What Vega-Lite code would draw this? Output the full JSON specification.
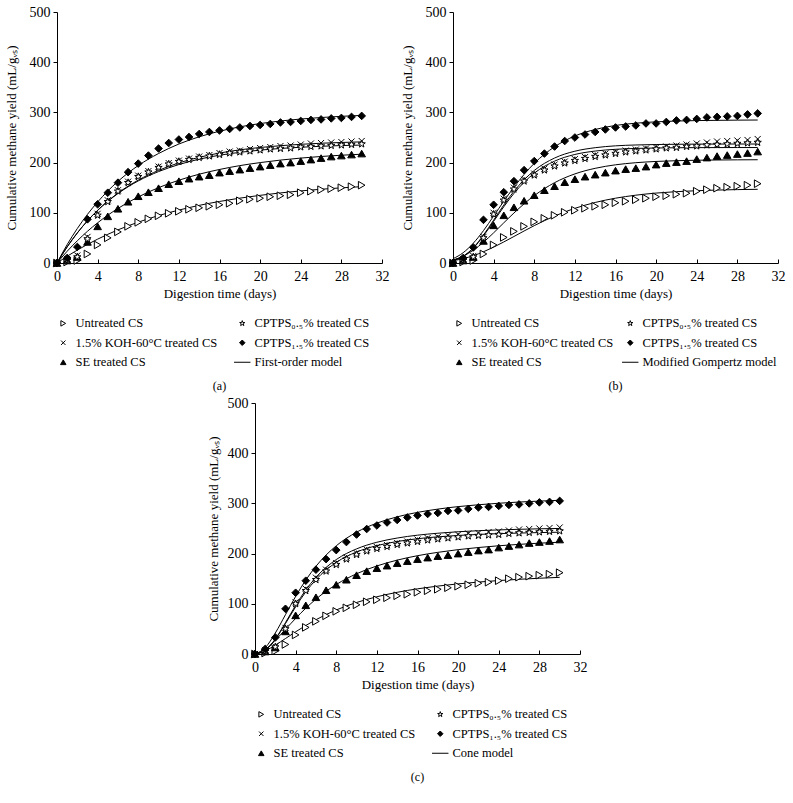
{
"$schema": "https://vega.github.io/schema/vega-lite/v6.json",
"padding": 5,
"config": {
  "font": "Liberation Serif",
  "view": {"stroke": null},
  "axis": {"grid": false, "domainColor": "black", "tickColor": "black", "labelColor": "black", "titleColor": "black", "labelFontSize": 14, "titleFontSize": 13, "titleFontWeight": "normal", "labelFont": "Liberation Serif", "titleFont": "Liberation Serif", "domainWidth": 1, "tickWidth": 1},
  "axisY": {"tickSize": 4, "labelPadding": 3, "titlePadding": 11},
  "axisX": {"tickSize": -4, "labelPadding": 10, "titlePadding": 4, "labelFlush": false},
  "legend": {"orient": "bottom", "columns": 2, "title": null, "labelFontSize": 12.5, "labelFont": "Liberation Serif", "labelColor": "black", "symbolStrokeColor": "black", "symbolStrokeWidth": 1, "symbolSize": 30, "rowPadding": 6.5, "columnPadding": 14, "labelOffset": 6, "offset": 17, "labelLimit": 300},
  "title": {"font": "Liberation Serif", "fontSize": 12, "fontWeight": "normal", "color": "black"}
},
"datasets": {
"points": [
{"p":"a","s":"U","d":0,"y":0},{"p":"a","s":"U","d":1,"y":2},{"p":"a","s":"U","d":2,"y":5},{"p":"a","s":"U","d":3,"y":18},{"p":"a","s":"U","d":4,"y":36},{"p":"a","s":"U","d":5,"y":50},{"p":"a","s":"U","d":6,"y":62},{"p":"a","s":"U","d":7,"y":73},{"p":"a","s":"U","d":8,"y":81},{"p":"a","s":"U","d":9,"y":88},{"p":"a","s":"U","d":10,"y":94},{"p":"a","s":"U","d":11,"y":99},{"p":"a","s":"U","d":12,"y":103},{"p":"a","s":"U","d":13,"y":107},{"p":"a","s":"U","d":14,"y":110},{"p":"a","s":"U","d":15,"y":113},{"p":"a","s":"U","d":16,"y":116},{"p":"a","s":"U","d":17,"y":119},{"p":"a","s":"U","d":18,"y":124},{"p":"a","s":"U","d":19,"y":127},{"p":"a","s":"U","d":20,"y":129},{"p":"a","s":"U","d":21,"y":132},{"p":"a","s":"U","d":22,"y":134},{"p":"a","s":"U","d":23,"y":136},{"p":"a","s":"U","d":24,"y":140},{"p":"a","s":"U","d":25,"y":143},{"p":"a","s":"U","d":26,"y":146},{"p":"a","s":"U","d":27,"y":148},{"p":"a","s":"U","d":28,"y":150},{"p":"a","s":"U","d":29,"y":152},{"p":"a","s":"U","d":30,"y":155},
{"p":"a","s":"K","d":0,"y":0},{"p":"a","s":"K","d":1,"y":8},{"p":"a","s":"K","d":2,"y":15},{"p":"a","s":"K","d":3,"y":52},{"p":"a","s":"K","d":4,"y":98},{"p":"a","s":"K","d":5,"y":125},{"p":"a","s":"K","d":6,"y":145},{"p":"a","s":"K","d":7,"y":162},{"p":"a","s":"K","d":8,"y":174},{"p":"a","s":"K","d":9,"y":183},{"p":"a","s":"K","d":10,"y":192},{"p":"a","s":"K","d":11,"y":199},{"p":"a","s":"K","d":12,"y":204},{"p":"a","s":"K","d":13,"y":208},{"p":"a","s":"K","d":14,"y":212},{"p":"a","s":"K","d":15,"y":215},{"p":"a","s":"K","d":16,"y":219},{"p":"a","s":"K","d":17,"y":222},{"p":"a","s":"K","d":18,"y":224},{"p":"a","s":"K","d":19,"y":227},{"p":"a","s":"K","d":20,"y":229},{"p":"a","s":"K","d":21,"y":231},{"p":"a","s":"K","d":22,"y":233},{"p":"a","s":"K","d":23,"y":234},{"p":"a","s":"K","d":24,"y":236},{"p":"a","s":"K","d":25,"y":238},{"p":"a","s":"K","d":26,"y":239},{"p":"a","s":"K","d":27,"y":240},{"p":"a","s":"K","d":28,"y":241},{"p":"a","s":"K","d":29,"y":242},{"p":"a","s":"K","d":30,"y":243},
{"p":"a","s":"S","d":0,"y":0},{"p":"a","s":"S","d":1,"y":5},{"p":"a","s":"S","d":2,"y":12},{"p":"a","s":"S","d":3,"y":42},{"p":"a","s":"S","d":4,"y":73},{"p":"a","s":"S","d":5,"y":93},{"p":"a","s":"S","d":6,"y":108},{"p":"a","s":"S","d":7,"y":122},{"p":"a","s":"S","d":8,"y":133},{"p":"a","s":"S","d":9,"y":141},{"p":"a","s":"S","d":10,"y":149},{"p":"a","s":"S","d":11,"y":157},{"p":"a","s":"S","d":12,"y":163},{"p":"a","s":"S","d":13,"y":168},{"p":"a","s":"S","d":14,"y":172},{"p":"a","s":"S","d":15,"y":175},{"p":"a","s":"S","d":16,"y":180},{"p":"a","s":"S","d":17,"y":183},{"p":"a","s":"S","d":18,"y":186},{"p":"a","s":"S","d":19,"y":189},{"p":"a","s":"S","d":20,"y":192},{"p":"a","s":"S","d":21,"y":195},{"p":"a","s":"S","d":22,"y":198},{"p":"a","s":"S","d":23,"y":200},{"p":"a","s":"S","d":24,"y":203},{"p":"a","s":"S","d":25,"y":206},{"p":"a","s":"S","d":26,"y":209},{"p":"a","s":"S","d":27,"y":212},{"p":"a","s":"S","d":28,"y":214},{"p":"a","s":"S","d":29,"y":216},{"p":"a","s":"S","d":30,"y":218},
{"p":"a","s":"C05","d":0,"y":0},{"p":"a","s":"C05","d":1,"y":5},{"p":"a","s":"C05","d":2,"y":12},{"p":"a","s":"C05","d":3,"y":48},{"p":"a","s":"C05","d":4,"y":95},{"p":"a","s":"C05","d":5,"y":122},{"p":"a","s":"C05","d":6,"y":143},{"p":"a","s":"C05","d":7,"y":160},{"p":"a","s":"C05","d":8,"y":172},{"p":"a","s":"C05","d":9,"y":181},{"p":"a","s":"C05","d":10,"y":190},{"p":"a","s":"C05","d":11,"y":197},{"p":"a","s":"C05","d":12,"y":202},{"p":"a","s":"C05","d":13,"y":206},{"p":"a","s":"C05","d":14,"y":210},{"p":"a","s":"C05","d":15,"y":213},{"p":"a","s":"C05","d":16,"y":216},{"p":"a","s":"C05","d":17,"y":219},{"p":"a","s":"C05","d":18,"y":221},{"p":"a","s":"C05","d":19,"y":223},{"p":"a","s":"C05","d":20,"y":225},{"p":"a","s":"C05","d":21,"y":227},{"p":"a","s":"C05","d":22,"y":228},{"p":"a","s":"C05","d":23,"y":229},{"p":"a","s":"C05","d":24,"y":231},{"p":"a","s":"C05","d":25,"y":232},{"p":"a","s":"C05","d":26,"y":233},{"p":"a","s":"C05","d":27,"y":234},{"p":"a","s":"C05","d":28,"y":235},{"p":"a","s":"C05","d":29,"y":236},{"p":"a","s":"C05","d":30,"y":237},
{"p":"a","s":"C15","d":0,"y":0},{"p":"a","s":"C15","d":1,"y":10},{"p":"a","s":"C15","d":2,"y":32},{"p":"a","s":"C15","d":3,"y":87},{"p":"a","s":"C15","d":4,"y":117},{"p":"a","s":"C15","d":5,"y":140},{"p":"a","s":"C15","d":6,"y":160},{"p":"a","s":"C15","d":7,"y":181},{"p":"a","s":"C15","d":8,"y":198},{"p":"a","s":"C15","d":9,"y":214},{"p":"a","s":"C15","d":10,"y":228},{"p":"a","s":"C15","d":11,"y":239},{"p":"a","s":"C15","d":12,"y":246},{"p":"a","s":"C15","d":13,"y":251},{"p":"a","s":"C15","d":14,"y":257},{"p":"a","s":"C15","d":15,"y":261},{"p":"a","s":"C15","d":16,"y":264},{"p":"a","s":"C15","d":17,"y":267},{"p":"a","s":"C15","d":18,"y":270},{"p":"a","s":"C15","d":19,"y":273},{"p":"a","s":"C15","d":20,"y":275},{"p":"a","s":"C15","d":21,"y":277},{"p":"a","s":"C15","d":22,"y":280},{"p":"a","s":"C15","d":23,"y":281},{"p":"a","s":"C15","d":24,"y":283},{"p":"a","s":"C15","d":25,"y":285},{"p":"a","s":"C15","d":26,"y":286},{"p":"a","s":"C15","d":27,"y":288},{"p":"a","s":"C15","d":28,"y":289},{"p":"a","s":"C15","d":29,"y":291},{"p":"a","s":"C15","d":30,"y":293},
{"p":"b","s":"U","d":0,"y":0},{"p":"b","s":"U","d":1,"y":2},{"p":"b","s":"U","d":2,"y":5},{"p":"b","s":"U","d":3,"y":18},{"p":"b","s":"U","d":4,"y":36},{"p":"b","s":"U","d":5,"y":51},{"p":"b","s":"U","d":6,"y":63},{"p":"b","s":"U","d":7,"y":73},{"p":"b","s":"U","d":8,"y":82},{"p":"b","s":"U","d":9,"y":89},{"p":"b","s":"U","d":10,"y":95},{"p":"b","s":"U","d":11,"y":101},{"p":"b","s":"U","d":12,"y":105},{"p":"b","s":"U","d":13,"y":109},{"p":"b","s":"U","d":14,"y":113},{"p":"b","s":"U","d":15,"y":116},{"p":"b","s":"U","d":16,"y":120},{"p":"b","s":"U","d":17,"y":123},{"p":"b","s":"U","d":18,"y":126},{"p":"b","s":"U","d":19,"y":129},{"p":"b","s":"U","d":20,"y":132},{"p":"b","s":"U","d":21,"y":134},{"p":"b","s":"U","d":22,"y":137},{"p":"b","s":"U","d":23,"y":139},{"p":"b","s":"U","d":24,"y":143},{"p":"b","s":"U","d":25,"y":146},{"p":"b","s":"U","d":26,"y":149},{"p":"b","s":"U","d":27,"y":151},{"p":"b","s":"U","d":28,"y":153},{"p":"b","s":"U","d":29,"y":155},{"p":"b","s":"U","d":30,"y":158},
{"p":"b","s":"K","d":0,"y":0},{"p":"b","s":"K","d":1,"y":8},{"p":"b","s":"K","d":2,"y":14},{"p":"b","s":"K","d":3,"y":52},{"p":"b","s":"K","d":4,"y":100},{"p":"b","s":"K","d":5,"y":128},{"p":"b","s":"K","d":6,"y":150},{"p":"b","s":"K","d":7,"y":166},{"p":"b","s":"K","d":8,"y":178},{"p":"b","s":"K","d":9,"y":188},{"p":"b","s":"K","d":10,"y":196},{"p":"b","s":"K","d":11,"y":202},{"p":"b","s":"K","d":12,"y":207},{"p":"b","s":"K","d":13,"y":211},{"p":"b","s":"K","d":14,"y":215},{"p":"b","s":"K","d":15,"y":218},{"p":"b","s":"K","d":16,"y":221},{"p":"b","s":"K","d":17,"y":224},{"p":"b","s":"K","d":18,"y":226},{"p":"b","s":"K","d":19,"y":228},{"p":"b","s":"K","d":20,"y":230},{"p":"b","s":"K","d":21,"y":232},{"p":"b","s":"K","d":22,"y":234},{"p":"b","s":"K","d":23,"y":236},{"p":"b","s":"K","d":24,"y":238},{"p":"b","s":"K","d":25,"y":240},{"p":"b","s":"K","d":26,"y":242},{"p":"b","s":"K","d":27,"y":243},{"p":"b","s":"K","d":28,"y":244},{"p":"b","s":"K","d":29,"y":245},{"p":"b","s":"K","d":30,"y":247},
{"p":"b","s":"S","d":0,"y":0},{"p":"b","s":"S","d":1,"y":5},{"p":"b","s":"S","d":2,"y":12},{"p":"b","s":"S","d":3,"y":44},{"p":"b","s":"S","d":4,"y":75},{"p":"b","s":"S","d":5,"y":95},{"p":"b","s":"S","d":6,"y":111},{"p":"b","s":"S","d":7,"y":124},{"p":"b","s":"S","d":8,"y":135},{"p":"b","s":"S","d":9,"y":145},{"p":"b","s":"S","d":10,"y":153},{"p":"b","s":"S","d":11,"y":161},{"p":"b","s":"S","d":12,"y":167},{"p":"b","s":"S","d":13,"y":172},{"p":"b","s":"S","d":14,"y":176},{"p":"b","s":"S","d":15,"y":180},{"p":"b","s":"S","d":16,"y":184},{"p":"b","s":"S","d":17,"y":187},{"p":"b","s":"S","d":18,"y":189},{"p":"b","s":"S","d":19,"y":192},{"p":"b","s":"S","d":20,"y":196},{"p":"b","s":"S","d":21,"y":199},{"p":"b","s":"S","d":22,"y":201},{"p":"b","s":"S","d":23,"y":203},{"p":"b","s":"S","d":24,"y":207},{"p":"b","s":"S","d":25,"y":210},{"p":"b","s":"S","d":26,"y":213},{"p":"b","s":"S","d":27,"y":215},{"p":"b","s":"S","d":28,"y":217},{"p":"b","s":"S","d":29,"y":219},{"p":"b","s":"S","d":30,"y":222},
{"p":"b","s":"C05","d":0,"y":0},{"p":"b","s":"C05","d":1,"y":5},{"p":"b","s":"C05","d":2,"y":12},{"p":"b","s":"C05","d":3,"y":50},{"p":"b","s":"C05","d":4,"y":97},{"p":"b","s":"C05","d":5,"y":125},{"p":"b","s":"C05","d":6,"y":147},{"p":"b","s":"C05","d":7,"y":163},{"p":"b","s":"C05","d":8,"y":175},{"p":"b","s":"C05","d":9,"y":185},{"p":"b","s":"C05","d":10,"y":193},{"p":"b","s":"C05","d":11,"y":199},{"p":"b","s":"C05","d":12,"y":204},{"p":"b","s":"C05","d":13,"y":208},{"p":"b","s":"C05","d":14,"y":212},{"p":"b","s":"C05","d":15,"y":215},{"p":"b","s":"C05","d":16,"y":218},{"p":"b","s":"C05","d":17,"y":221},{"p":"b","s":"C05","d":18,"y":223},{"p":"b","s":"C05","d":19,"y":225},{"p":"b","s":"C05","d":20,"y":227},{"p":"b","s":"C05","d":21,"y":229},{"p":"b","s":"C05","d":22,"y":230},{"p":"b","s":"C05","d":23,"y":232},{"p":"b","s":"C05","d":24,"y":233},{"p":"b","s":"C05","d":25,"y":235},{"p":"b","s":"C05","d":26,"y":236},{"p":"b","s":"C05","d":27,"y":237},{"p":"b","s":"C05","d":28,"y":238},{"p":"b","s":"C05","d":29,"y":239},{"p":"b","s":"C05","d":30,"y":240},
{"p":"b","s":"C15","d":0,"y":0},{"p":"b","s":"C15","d":1,"y":10},{"p":"b","s":"C15","d":2,"y":31},{"p":"b","s":"C15","d":3,"y":86},{"p":"b","s":"C15","d":4,"y":116},{"p":"b","s":"C15","d":5,"y":141},{"p":"b","s":"C15","d":6,"y":163},{"p":"b","s":"C15","d":7,"y":185},{"p":"b","s":"C15","d":8,"y":203},{"p":"b","s":"C15","d":9,"y":218},{"p":"b","s":"C15","d":10,"y":232},{"p":"b","s":"C15","d":11,"y":243},{"p":"b","s":"C15","d":12,"y":250},{"p":"b","s":"C15","d":13,"y":256},{"p":"b","s":"C15","d":14,"y":261},{"p":"b","s":"C15","d":15,"y":266},{"p":"b","s":"C15","d":16,"y":270},{"p":"b","s":"C15","d":17,"y":272},{"p":"b","s":"C15","d":18,"y":274},{"p":"b","s":"C15","d":19,"y":278},{"p":"b","s":"C15","d":20,"y":278},{"p":"b","s":"C15","d":21,"y":281},{"p":"b","s":"C15","d":22,"y":284},{"p":"b","s":"C15","d":23,"y":285},{"p":"b","s":"C15","d":24,"y":287},{"p":"b","s":"C15","d":25,"y":290},{"p":"b","s":"C15","d":26,"y":291},{"p":"b","s":"C15","d":27,"y":292},{"p":"b","s":"C15","d":28,"y":293},{"p":"b","s":"C15","d":29,"y":296},{"p":"b","s":"C15","d":30,"y":298},
{"p":"c","s":"U","d":0,"y":0},{"p":"c","s":"U","d":1,"y":2},{"p":"c","s":"U","d":2,"y":6},{"p":"c","s":"U","d":3,"y":19},{"p":"c","s":"U","d":4,"y":38},{"p":"c","s":"U","d":5,"y":53},{"p":"c","s":"U","d":6,"y":65},{"p":"c","s":"U","d":7,"y":76},{"p":"c","s":"U","d":8,"y":85},{"p":"c","s":"U","d":9,"y":92},{"p":"c","s":"U","d":10,"y":98},{"p":"c","s":"U","d":11,"y":104},{"p":"c","s":"U","d":12,"y":108},{"p":"c","s":"U","d":13,"y":112},{"p":"c","s":"U","d":14,"y":116},{"p":"c","s":"U","d":15,"y":119},{"p":"c","s":"U","d":16,"y":123},{"p":"c","s":"U","d":17,"y":126},{"p":"c","s":"U","d":18,"y":129},{"p":"c","s":"U","d":19,"y":132},{"p":"c","s":"U","d":20,"y":135},{"p":"c","s":"U","d":21,"y":138},{"p":"c","s":"U","d":22,"y":141},{"p":"c","s":"U","d":23,"y":143},{"p":"c","s":"U","d":24,"y":146},{"p":"c","s":"U","d":25,"y":150},{"p":"c","s":"U","d":26,"y":153},{"p":"c","s":"U","d":27,"y":155},{"p":"c","s":"U","d":28,"y":157},{"p":"c","s":"U","d":29,"y":159},{"p":"c","s":"U","d":30,"y":162},
{"p":"c","s":"K","d":0,"y":0},{"p":"c","s":"K","d":1,"y":8},{"p":"c","s":"K","d":2,"y":15},{"p":"c","s":"K","d":3,"y":52},{"p":"c","s":"K","d":4,"y":103},{"p":"c","s":"K","d":5,"y":130},{"p":"c","s":"K","d":6,"y":152},{"p":"c","s":"K","d":7,"y":168},{"p":"c","s":"K","d":8,"y":181},{"p":"c","s":"K","d":9,"y":192},{"p":"c","s":"K","d":10,"y":201},{"p":"c","s":"K","d":11,"y":208},{"p":"c","s":"K","d":12,"y":213},{"p":"c","s":"K","d":13,"y":217},{"p":"c","s":"K","d":14,"y":221},{"p":"c","s":"K","d":15,"y":224},{"p":"c","s":"K","d":16,"y":228},{"p":"c","s":"K","d":17,"y":231},{"p":"c","s":"K","d":18,"y":233},{"p":"c","s":"K","d":19,"y":236},{"p":"c","s":"K","d":20,"y":238},{"p":"c","s":"K","d":21,"y":240},{"p":"c","s":"K","d":22,"y":241},{"p":"c","s":"K","d":23,"y":243},{"p":"c","s":"K","d":24,"y":244},{"p":"c","s":"K","d":25,"y":246},{"p":"c","s":"K","d":26,"y":248},{"p":"c","s":"K","d":27,"y":249},{"p":"c","s":"K","d":28,"y":250},{"p":"c","s":"K","d":29,"y":251},{"p":"c","s":"K","d":30,"y":252},
{"p":"c","s":"S","d":0,"y":0},{"p":"c","s":"S","d":1,"y":5},{"p":"c","s":"S","d":2,"y":13},{"p":"c","s":"S","d":3,"y":45},{"p":"c","s":"S","d":4,"y":77},{"p":"c","s":"S","d":5,"y":97},{"p":"c","s":"S","d":6,"y":113},{"p":"c","s":"S","d":7,"y":127},{"p":"c","s":"S","d":8,"y":138},{"p":"c","s":"S","d":9,"y":148},{"p":"c","s":"S","d":10,"y":157},{"p":"c","s":"S","d":11,"y":165},{"p":"c","s":"S","d":12,"y":171},{"p":"c","s":"S","d":13,"y":176},{"p":"c","s":"S","d":14,"y":181},{"p":"c","s":"S","d":15,"y":185},{"p":"c","s":"S","d":16,"y":189},{"p":"c","s":"S","d":17,"y":192},{"p":"c","s":"S","d":18,"y":195},{"p":"c","s":"S","d":19,"y":197},{"p":"c","s":"S","d":20,"y":200},{"p":"c","s":"S","d":21,"y":203},{"p":"c","s":"S","d":22,"y":206},{"p":"c","s":"S","d":23,"y":208},{"p":"c","s":"S","d":24,"y":212},{"p":"c","s":"S","d":25,"y":215},{"p":"c","s":"S","d":26,"y":218},{"p":"c","s":"S","d":27,"y":221},{"p":"c","s":"S","d":28,"y":223},{"p":"c","s":"S","d":29,"y":225},{"p":"c","s":"S","d":30,"y":228},
{"p":"c","s":"C05","d":0,"y":0},{"p":"c","s":"C05","d":1,"y":5},{"p":"c","s":"C05","d":2,"y":14},{"p":"c","s":"C05","d":3,"y":50},{"p":"c","s":"C05","d":4,"y":100},{"p":"c","s":"C05","d":5,"y":126},{"p":"c","s":"C05","d":6,"y":148},{"p":"c","s":"C05","d":7,"y":165},{"p":"c","s":"C05","d":8,"y":178},{"p":"c","s":"C05","d":9,"y":189},{"p":"c","s":"C05","d":10,"y":198},{"p":"c","s":"C05","d":11,"y":205},{"p":"c","s":"C05","d":12,"y":210},{"p":"c","s":"C05","d":13,"y":214},{"p":"c","s":"C05","d":14,"y":218},{"p":"c","s":"C05","d":15,"y":221},{"p":"c","s":"C05","d":16,"y":224},{"p":"c","s":"C05","d":17,"y":227},{"p":"c","s":"C05","d":18,"y":229},{"p":"c","s":"C05","d":19,"y":231},{"p":"c","s":"C05","d":20,"y":233},{"p":"c","s":"C05","d":21,"y":235},{"p":"c","s":"C05","d":22,"y":236},{"p":"c","s":"C05","d":23,"y":237},{"p":"c","s":"C05","d":24,"y":238},{"p":"c","s":"C05","d":25,"y":240},{"p":"c","s":"C05","d":26,"y":241},{"p":"c","s":"C05","d":27,"y":242},{"p":"c","s":"C05","d":28,"y":243},{"p":"c","s":"C05","d":29,"y":244},{"p":"c","s":"C05","d":30,"y":245},
{"p":"c","s":"C15","d":0,"y":0},{"p":"c","s":"C15","d":1,"y":10},{"p":"c","s":"C15","d":2,"y":33},{"p":"c","s":"C15","d":3,"y":90},{"p":"c","s":"C15","d":4,"y":122},{"p":"c","s":"C15","d":5,"y":146},{"p":"c","s":"C15","d":6,"y":168},{"p":"c","s":"C15","d":7,"y":189},{"p":"c","s":"C15","d":8,"y":207},{"p":"c","s":"C15","d":9,"y":223},{"p":"c","s":"C15","d":10,"y":238},{"p":"c","s":"C15","d":11,"y":249},{"p":"c","s":"C15","d":12,"y":256},{"p":"c","s":"C15","d":13,"y":262},{"p":"c","s":"C15","d":14,"y":267},{"p":"c","s":"C15","d":15,"y":272},{"p":"c","s":"C15","d":16,"y":276},{"p":"c","s":"C15","d":17,"y":279},{"p":"c","s":"C15","d":18,"y":281},{"p":"c","s":"C15","d":19,"y":285},{"p":"c","s":"C15","d":20,"y":286},{"p":"c","s":"C15","d":21,"y":289},{"p":"c","s":"C15","d":22,"y":292},{"p":"c","s":"C15","d":23,"y":293},{"p":"c","s":"C15","d":24,"y":295},{"p":"c","s":"C15","d":25,"y":297},{"p":"c","s":"C15","d":26,"y":298},{"p":"c","s":"C15","d":27,"y":300},{"p":"c","s":"C15","d":28,"y":302},{"p":"c","s":"C15","d":29,"y":303},{"p":"c","s":"C15","d":30,"y":305}
],
"models": [
{"p":"a","s":"C15","d":0,"y":0},{"p":"a","s":"C15","d":1,"y":36.6},{"p":"a","s":"C15","d":2,"y":68.7},{"p":"a","s":"C15","d":3,"y":96.9},{"p":"a","s":"C15","d":4,"y":121.5},{"p":"a","s":"C15","d":5,"y":143.4},{"p":"a","s":"C15","d":6,"y":162.6},{"p":"a","s":"C15","d":8,"y":194.1},{"p":"a","s":"C15","d":10,"y":218.1},{"p":"a","s":"C15","d":12,"y":237},{"p":"a","s":"C15","d":14,"y":251.4},{"p":"a","s":"C15","d":16,"y":262.5},{"p":"a","s":"C15","d":18,"y":271.2},{"p":"a","s":"C15","d":20,"y":277.8},{"p":"a","s":"C15","d":22,"y":282.9},{"p":"a","s":"C15","d":24,"y":286.8},{"p":"a","s":"C15","d":26,"y":289.8},{"p":"a","s":"C15","d":28,"y":292.2},{"p":"a","s":"C15","d":30,"y":294},
{"p":"a","s":"K","d":0,"y":0},{"p":"a","s":"K","d":1,"y":32.1},{"p":"a","s":"K","d":2,"y":59.8},{"p":"a","s":"K","d":3,"y":84},{"p":"a","s":"K","d":4,"y":105.1},{"p":"a","s":"K","d":5,"y":123.2},{"p":"a","s":"K","d":6,"y":139.2},{"p":"a","s":"K","d":8,"y":165.1},{"p":"a","s":"K","d":10,"y":184.5},{"p":"a","s":"K","d":12,"y":199.4},{"p":"a","s":"K","d":14,"y":210.5},{"p":"a","s":"K","d":16,"y":219},{"p":"a","s":"K","d":18,"y":225.4},{"p":"a","s":"K","d":20,"y":230.1},{"p":"a","s":"K","d":22,"y":233.7},{"p":"a","s":"K","d":24,"y":236.4},{"p":"a","s":"K","d":26,"y":238.6},{"p":"a","s":"K","d":28,"y":240.1},{"p":"a","s":"K","d":30,"y":241.3},
{"p":"a","s":"C05","d":0,"y":0},{"p":"a","s":"C05","d":1,"y":32.1},{"p":"a","s":"C05","d":2,"y":60},{"p":"a","s":"C05","d":3,"y":84},{"p":"a","s":"C05","d":4,"y":104.7},{"p":"a","s":"C05","d":5,"y":122.8},{"p":"a","s":"C05","d":6,"y":138.3},{"p":"a","s":"C05","d":8,"y":163.5},{"p":"a","s":"C05","d":10,"y":182.1},{"p":"a","s":"C05","d":12,"y":196.1},{"p":"a","s":"C05","d":14,"y":206.8},{"p":"a","s":"C05","d":16,"y":214.7},{"p":"a","s":"C05","d":18,"y":220.4},{"p":"a","s":"C05","d":20,"y":224.9},{"p":"a","s":"C05","d":22,"y":228.2},{"p":"a","s":"C05","d":24,"y":230.6},{"p":"a","s":"C05","d":26,"y":232.5},{"p":"a","s":"C05","d":28,"y":234},{"p":"a","s":"C05","d":30,"y":234.9},
{"p":"a","s":"S","d":0,"y":0},{"p":"a","s":"S","d":1,"y":23.4},{"p":"a","s":"S","d":2,"y":44.3},{"p":"a","s":"S","d":3,"y":63.2},{"p":"a","s":"S","d":4,"y":80.1},{"p":"a","s":"S","d":5,"y":95.2},{"p":"a","s":"S","d":6,"y":108.7},{"p":"a","s":"S","d":8,"y":131.6},{"p":"a","s":"S","d":10,"y":150.1},{"p":"a","s":"S","d":12,"y":164.9},{"p":"a","s":"S","d":14,"y":176.9},{"p":"a","s":"S","d":16,"y":186.3},{"p":"a","s":"S","d":18,"y":194},{"p":"a","s":"S","d":20,"y":200},{"p":"a","s":"S","d":22,"y":205},{"p":"a","s":"S","d":24,"y":209},{"p":"a","s":"S","d":26,"y":212.2},{"p":"a","s":"S","d":28,"y":214.7},{"p":"a","s":"S","d":30,"y":216.7},
{"p":"a","s":"U","d":0,"y":0},{"p":"a","s":"U","d":1,"y":13.5},{"p":"a","s":"U","d":2,"y":25.7},{"p":"a","s":"U","d":3,"y":37.1},{"p":"a","s":"U","d":4,"y":47.5},{"p":"a","s":"U","d":5,"y":57.1},{"p":"a","s":"U","d":6,"y":66},{"p":"a","s":"U","d":8,"y":81.3},{"p":"a","s":"U","d":10,"y":94.5},{"p":"a","s":"U","d":12,"y":105.4},{"p":"a","s":"U","d":14,"y":114.8},{"p":"a","s":"U","d":16,"y":122.6},{"p":"a","s":"U","d":18,"y":129.2},{"p":"a","s":"U","d":20,"y":134.8},{"p":"a","s":"U","d":22,"y":139.6},{"p":"a","s":"U","d":24,"y":143.6},{"p":"a","s":"U","d":26,"y":146.9},{"p":"a","s":"U","d":28,"y":149.7},{"p":"a","s":"U","d":30,"y":152.1},
{"p":"b","s":"C15","d":0,"y":8.5},{"p":"b","s":"C15","d":1,"y":20.5},{"p":"b","s":"C15","d":2,"y":39.5},{"p":"b","s":"C15","d":3,"y":64.5},{"p":"b","s":"C15","d":4,"y":93.5},{"p":"b","s":"C15","d":5,"y":123},{"p":"b","s":"C15","d":6,"y":151},{"p":"b","s":"C15","d":8,"y":198.5},{"p":"b","s":"C15","d":10,"y":231.5},{"p":"b","s":"C15","d":12,"y":253},{"p":"b","s":"C15","d":14,"y":266},{"p":"b","s":"C15","d":16,"y":274},{"p":"b","s":"C15","d":18,"y":278.5},{"p":"b","s":"C15","d":20,"y":281.2},{"p":"b","s":"C15","d":22,"y":282.8},{"p":"b","s":"C15","d":24,"y":283.7},{"p":"b","s":"C15","d":26,"y":284.2},{"p":"b","s":"C15","d":28,"y":284.6},{"p":"b","s":"C15","d":30,"y":284.8},
{"p":"b","s":"K","d":0,"y":5.5},{"p":"b","s":"K","d":1,"y":13.5},{"p":"b","s":"K","d":2,"y":30.4},{"p":"b","s":"K","d":3,"y":55.7},{"p":"b","s":"K","d":4,"y":85.4},{"p":"b","s":"K","d":5,"y":115.4},{"p":"b","s":"K","d":6,"y":142.8},{"p":"b","s":"K","d":8,"y":184.3},{"p":"b","s":"K","d":10,"y":209.1},{"p":"b","s":"K","d":12,"y":222.7},{"p":"b","s":"K","d":14,"y":229.7},{"p":"b","s":"K","d":16,"y":233.4},{"p":"b","s":"K","d":18,"y":235.1},{"p":"b","s":"K","d":20,"y":236},{"p":"b","s":"K","d":22,"y":236.5},{"p":"b","s":"K","d":24,"y":236.8},{"p":"b","s":"K","d":26,"y":236.9},{"p":"b","s":"K","d":28,"y":237},{"p":"b","s":"K","d":30,"y":237},
{"p":"b","s":"C05","d":0,"y":5.5},{"p":"b","s":"C05","d":1,"y":13},{"p":"b","s":"C05","d":2,"y":29.5},{"p":"b","s":"C05","d":3,"y":54.1},{"p":"b","s":"C05","d":4,"y":82.9},{"p":"b","s":"C05","d":5,"y":112},{"p":"b","s":"C05","d":6,"y":138.6},{"p":"b","s":"C05","d":8,"y":178.8},{"p":"b","s":"C05","d":10,"y":202.9},{"p":"b","s":"C05","d":12,"y":216.2},{"p":"b","s":"C05","d":14,"y":223},{"p":"b","s":"C05","d":16,"y":226.5},{"p":"b","s":"C05","d":18,"y":228.2},{"p":"b","s":"C05","d":20,"y":229.1},{"p":"b","s":"C05","d":22,"y":229.6},{"p":"b","s":"C05","d":24,"y":229.8},{"p":"b","s":"C05","d":26,"y":229.9},{"p":"b","s":"C05","d":28,"y":230},{"p":"b","s":"C05","d":30,"y":230},
{"p":"b","s":"S","d":0,"y":6},{"p":"b","s":"S","d":1,"y":13.6},{"p":"b","s":"S","d":2,"y":25.5},{"p":"b","s":"S","d":3,"y":41.4},{"p":"b","s":"S","d":4,"y":60.1},{"p":"b","s":"S","d":5,"y":80},{"p":"b","s":"S","d":6,"y":99.6},{"p":"b","s":"S","d":8,"y":134.2},{"p":"b","s":"S","d":10,"y":160},{"p":"b","s":"S","d":12,"y":177.5},{"p":"b","s":"S","d":14,"y":188.6},{"p":"b","s":"S","d":16,"y":195.6},{"p":"b","s":"S","d":18,"y":199.8},{"p":"b","s":"S","d":20,"y":202.3},{"p":"b","s":"S","d":22,"y":203.8},{"p":"b","s":"S","d":24,"y":204.7},{"p":"b","s":"S","d":26,"y":205.2},{"p":"b","s":"S","d":28,"y":205.5},{"p":"b","s":"S","d":30,"y":205.7},
{"p":"b","s":"U","d":0,"y":4.6},{"p":"b","s":"U","d":1,"y":8.7},{"p":"b","s":"U","d":2,"y":14.6},{"p":"b","s":"U","d":3,"y":22.4},{"p":"b","s":"U","d":4,"y":31.6},{"p":"b","s":"U","d":5,"y":41.9},{"p":"b","s":"U","d":6,"y":52.8},{"p":"b","s":"U","d":8,"y":74.4},{"p":"b","s":"U","d":10,"y":93.5},{"p":"b","s":"U","d":12,"y":108.9},{"p":"b","s":"U","d":14,"y":120.6},{"p":"b","s":"U","d":16,"y":129.1},{"p":"b","s":"U","d":18,"y":135.1},{"p":"b","s":"U","d":20,"y":139.3},{"p":"b","s":"U","d":22,"y":142.1},{"p":"b","s":"U","d":24,"y":144},{"p":"b","s":"U","d":26,"y":145.3},{"p":"b","s":"U","d":28,"y":146.2},{"p":"b","s":"U","d":30,"y":146.8},
{"p":"c","s":"C15","d":0,"y":0},{"p":"c","s":"C15","d":1,"y":12.4},{"p":"c","s":"C15","d":2,"y":41.8},{"p":"c","s":"C15","d":3,"y":78.3},{"p":"c","s":"C15","d":4,"y":114.7},{"p":"c","s":"C15","d":5,"y":147.2},{"p":"c","s":"C15","d":6,"y":174.7},{"p":"c","s":"C15","d":8,"y":215.6},{"p":"c","s":"C15","d":10,"y":242.6},{"p":"c","s":"C15","d":12,"y":260.7},{"p":"c","s":"C15","d":14,"y":273.2},{"p":"c","s":"C15","d":16,"y":282.1},{"p":"c","s":"C15","d":18,"y":288.6},{"p":"c","s":"C15","d":20,"y":293.6},{"p":"c","s":"C15","d":22,"y":297.3},{"p":"c","s":"C15","d":24,"y":300.3},{"p":"c","s":"C15","d":26,"y":302.7},{"p":"c","s":"C15","d":28,"y":304.6},{"p":"c","s":"C15","d":30,"y":306.2},
{"p":"c","s":"K","d":0,"y":0},{"p":"c","s":"K","d":1,"y":7.2},{"p":"c","s":"K","d":2,"y":30},{"p":"c","s":"K","d":3,"y":62.5},{"p":"c","s":"K","d":4,"y":96.8},{"p":"c","s":"K","d":5,"y":127.5},{"p":"c","s":"K","d":6,"y":152.7},{"p":"c","s":"K","d":8,"y":188.1},{"p":"c","s":"K","d":10,"y":209.4},{"p":"c","s":"K","d":12,"y":222.6},{"p":"c","s":"K","d":14,"y":231},{"p":"c","s":"K","d":16,"y":236.7},{"p":"c","s":"K","d":18,"y":240.6},{"p":"c","s":"K","d":20,"y":243.5},{"p":"c","s":"K","d":22,"y":245.6},{"p":"c","s":"K","d":24,"y":247.2},{"p":"c","s":"K","d":26,"y":248.4},{"p":"c","s":"K","d":28,"y":249.4},{"p":"c","s":"K","d":30,"y":250.1},
{"p":"c","s":"C05","d":0,"y":0},{"p":"c","s":"C05","d":1,"y":7},{"p":"c","s":"C05","d":2,"y":29.1},{"p":"c","s":"C05","d":3,"y":60.6},{"p":"c","s":"C05","d":4,"y":93.9},{"p":"c","s":"C05","d":5,"y":123.7},{"p":"c","s":"C05","d":6,"y":148.1},{"p":"c","s":"C05","d":8,"y":182.5},{"p":"c","s":"C05","d":10,"y":203.1},{"p":"c","s":"C05","d":12,"y":215.9},{"p":"c","s":"C05","d":14,"y":224.1},{"p":"c","s":"C05","d":16,"y":229.6},{"p":"c","s":"C05","d":18,"y":233.4},{"p":"c","s":"C05","d":20,"y":236.2},{"p":"c","s":"C05","d":22,"y":238.2},{"p":"c","s":"C05","d":24,"y":239.8},{"p":"c","s":"C05","d":26,"y":240.9},{"p":"c","s":"C05","d":28,"y":241.9},{"p":"c","s":"C05","d":30,"y":242.6},
{"p":"c","s":"S","d":0,"y":0},{"p":"c","s":"S","d":1,"y":9.2},{"p":"c","s":"S","d":2,"y":27.5},{"p":"c","s":"S","d":3,"y":49.1},{"p":"c","s":"S","d":4,"y":70.9},{"p":"c","s":"S","d":5,"y":91.2},{"p":"c","s":"S","d":6,"y":109.3},{"p":"c","s":"S","d":8,"y":138.4},{"p":"c","s":"S","d":10,"y":159.8},{"p":"c","s":"S","d":12,"y":175.4},{"p":"c","s":"S","d":14,"y":187},{"p":"c","s":"S","d":16,"y":195.8},{"p":"c","s":"S","d":18,"y":202.5},{"p":"c","s":"S","d":20,"y":207.9},{"p":"c","s":"S","d":22,"y":212.1},{"p":"c","s":"S","d":24,"y":215.6},{"p":"c","s":"S","d":26,"y":218.4},{"p":"c","s":"S","d":28,"y":220.8},{"p":"c","s":"S","d":30,"y":222.7},
{"p":"c","s":"U","d":0,"y":0},{"p":"c","s":"U","d":1,"y":6.3},{"p":"c","s":"U","d":2,"y":17.7},{"p":"c","s":"U","d":3,"y":30.8},{"p":"c","s":"U","d":4,"y":44.2},{"p":"c","s":"U","d":5,"y":56.8},{"p":"c","s":"U","d":6,"y":68.3},{"p":"c","s":"U","d":8,"y":87.7},{"p":"c","s":"U","d":10,"y":102.6},{"p":"c","s":"U","d":12,"y":114},{"p":"c","s":"U","d":14,"y":122.9},{"p":"c","s":"U","d":16,"y":129.8},{"p":"c","s":"U","d":18,"y":135.3},{"p":"c","s":"U","d":20,"y":139.7},{"p":"c","s":"U","d":22,"y":143.3},{"p":"c","s":"U","d":24,"y":146.3},{"p":"c","s":"U","d":26,"y":148.8},{"p":"c","s":"U","d":28,"y":150.9},{"p":"c","s":"U","d":30,"y":152.7}
]
},
"vconcat": [
{
"hconcat": [
{
 "width": 325, "height": 251,
 "title": {"text": "(a)", "orient": "bottom", "offset": 12},
 "layer": [
  {"data": {"name": "models"}, "transform": [{"filter": "datum.p === 'a'"}],
   "mark": {"type": "line", "interpolate": "monotone", "color": "black", "strokeWidth": 1},
   "encoding": {
     "x": {"field": "d", "type": "quantitative", "scale": {"domain": [0, 32], "nice": false}, "axis": {"title": "Digestion time (days)", "values": [0,4,8,12,16,20,24,28,32]}},
     "y": {"field": "y", "type": "quantitative", "scale": {"domain": [0, 500], "nice": false}, "axis": {"title": "Cumulative methane yield (mL/gᵥₛ)", "values": [0,50,100,150,200,250,300,350,400,450,500]}},
     "detail": {"field": "s"}}},
  {"data": {"name": "points"}, "transform": [{"filter": "datum.p === 'a'"}],
   "mark": {"type": "point", "filled": false, "strokeWidth": 1, "size": 58, "opacity": 1},
   "encoding": {
     "x": {"field": "d", "type": "quantitative"},
     "y": {"field": "y", "type": "quantitative"},
     "stroke": {"field": "s", "type": "nominal", "scale": {"domain": ["U","C05","K","C15","S","M"], "range": ["black","black","black","black","black","black"]},
       "legend": {"labelExpr": "datum.value == 'U' ? 'Untreated CS' : datum.value == 'K' ? '1.5% KOH-60°C treated CS' : datum.value == 'S' ? 'SE treated CS' : datum.value == 'C05' ? 'CPTPS₀.₅% treated CS' : datum.value == 'C15' ? 'CPTPS₁.₅% treated CS' : 'First-order model'"}},
     "shape": {"field": "s", "type": "nominal", "scale": {"domain": ["U","C05","K","C15","S","M"], "range": ["triangle-right", "M0,-1L0.235,-0.324L0.951,-0.309L0.38,0.124L0.588,0.809L0,0.4L-0.588,0.809L-0.38,0.124L-0.951,-0.309L-0.235,-0.324Z", "M-0.8,-0.8L0.8,0.8M-0.8,0.8L0.8,-0.8", "diamond", "triangle-up", "M-3,0L3,0"]},
       "legend": {"labelExpr": "datum.value == 'U' ? 'Untreated CS' : datum.value == 'K' ? '1.5% KOH-60°C treated CS' : datum.value == 'S' ? 'SE treated CS' : datum.value == 'C05' ? 'CPTPS₀.₅% treated CS' : datum.value == 'C15' ? 'CPTPS₁.₅% treated CS' : 'First-order model'"}},
     "fill": {"field": "s", "type": "nominal", "scale": {"domain": ["U","C05","K","C15","S","M"], "range": ["white", "white", "transparent", "black", "black", "transparent"]},
       "legend": {"labelExpr": "datum.value == 'U' ? 'Untreated CS' : datum.value == 'K' ? '1.5% KOH-60°C treated CS' : datum.value == 'S' ? 'SE treated CS' : datum.value == 'C05' ? 'CPTPS₀.₅% treated CS' : datum.value == 'C15' ? 'CPTPS₁.₅% treated CS' : 'First-order model'"}}}}
 ]
},
{
 "width": 325, "height": 251,
 "title": {"text": "(b)", "orient": "bottom", "offset": 12},
 "layer": [
  {"data": {"name": "models"}, "transform": [{"filter": "datum.p === 'b'"}],
   "mark": {"type": "line", "interpolate": "monotone", "color": "black", "strokeWidth": 1},
   "encoding": {
     "x": {"field": "d", "type": "quantitative", "scale": {"domain": [0, 32], "nice": false}, "axis": {"title": "Digestion time (days)", "values": [0,4,8,12,16,20,24,28,32]}},
     "y": {"field": "y", "type": "quantitative", "scale": {"domain": [0, 500], "nice": false}, "axis": {"title": "Cumulative methane yield (mL/gᵥₛ)", "values": [0,50,100,150,200,250,300,350,400,450,500]}},
     "detail": {"field": "s"}}},
  {"data": {"name": "points"}, "transform": [{"filter": "datum.p === 'b'"}],
   "mark": {"type": "point", "filled": false, "strokeWidth": 1, "size": 58, "opacity": 1},
   "encoding": {
     "x": {"field": "d", "type": "quantitative"},
     "y": {"field": "y", "type": "quantitative"},
     "stroke": {"field": "s", "type": "nominal", "scale": {"domain": ["U","C05","K","C15","S","M"], "range": ["black","black","black","black","black","black"]},
       "legend": {"columnPadding": 6, "labelExpr": "datum.value == 'U' ? 'Untreated CS' : datum.value == 'K' ? '1.5% KOH-60°C treated CS' : datum.value == 'S' ? 'SE treated CS' : datum.value == 'C05' ? 'CPTPS₀.₅% treated CS' : datum.value == 'C15' ? 'CPTPS₁.₅% treated CS' : 'Modified Gompertz model'"}},
     "shape": {"field": "s", "type": "nominal", "scale": {"domain": ["U","C05","K","C15","S","M"], "range": ["triangle-right", "M0,-1L0.235,-0.324L0.951,-0.309L0.38,0.124L0.588,0.809L0,0.4L-0.588,0.809L-0.38,0.124L-0.951,-0.309L-0.235,-0.324Z", "M-0.8,-0.8L0.8,0.8M-0.8,0.8L0.8,-0.8", "diamond", "triangle-up", "M-3,0L3,0"]},
       "legend": {"columnPadding": 6, "labelExpr": "datum.value == 'U' ? 'Untreated CS' : datum.value == 'K' ? '1.5% KOH-60°C treated CS' : datum.value == 'S' ? 'SE treated CS' : datum.value == 'C05' ? 'CPTPS₀.₅% treated CS' : datum.value == 'C15' ? 'CPTPS₁.₅% treated CS' : 'Modified Gompertz model'"}},
     "fill": {"field": "s", "type": "nominal", "scale": {"domain": ["U","C05","K","C15","S","M"], "range": ["white", "white", "transparent", "black", "black", "transparent"]},
       "legend": {"columnPadding": 6, "labelExpr": "datum.value == 'U' ? 'Untreated CS' : datum.value == 'K' ? '1.5% KOH-60°C treated CS' : datum.value == 'S' ? 'SE treated CS' : datum.value == 'C05' ? 'CPTPS₀.₅% treated CS' : datum.value == 'C15' ? 'CPTPS₁.₅% treated CS' : 'Modified Gompertz model'"}}}}
 ]
}
],
"spacing": 12,
"resolve": {"scale": {"shape": "independent", "fill": "independent", "stroke": "independent"}, "legend": {"shape": "independent", "fill": "independent", "stroke": "independent"}}
},
{
 "width": 325, "height": 251,
 "title": {"text": "(c)", "orient": "bottom", "offset": 12},
 "layer": [
  {"data": {"name": "models"}, "transform": [{"filter": "datum.p === 'c'"}],
   "mark": {"type": "line", "interpolate": "monotone", "color": "black", "strokeWidth": 1},
   "encoding": {
     "x": {"field": "d", "type": "quantitative", "scale": {"domain": [0, 32], "nice": false}, "axis": {"title": "Digestion time (days)", "values": [0,4,8,12,16,20,24,28,32]}},
     "y": {"field": "y", "type": "quantitative", "scale": {"domain": [0, 500], "nice": false}, "axis": {"title": "Cumulative methane yield (mL/gᵥₛ)", "titlePadding": 7, "values": [0,50,100,150,200,250,300,350,400,450,500]}},
     "detail": {"field": "s"}}},
  {"data": {"name": "points"}, "transform": [{"filter": "datum.p === 'c'"}],
   "mark": {"type": "point", "filled": false, "strokeWidth": 1, "size": 58, "opacity": 1},
   "encoding": {
     "x": {"field": "d", "type": "quantitative"},
     "y": {"field": "y", "type": "quantitative"},
     "stroke": {"field": "s", "type": "nominal", "scale": {"domain": ["U","C05","K","C15","S","M"], "range": ["black","black","black","black","black","black"]},
       "legend": {"labelExpr": "datum.value == 'U' ? 'Untreated CS' : datum.value == 'K' ? '1.5% KOH-60°C treated CS' : datum.value == 'S' ? 'SE treated CS' : datum.value == 'C05' ? 'CPTPS₀.₅% treated CS' : datum.value == 'C15' ? 'CPTPS₁.₅% treated CS' : 'Cone model'"}},
     "shape": {"field": "s", "type": "nominal", "scale": {"domain": ["U","C05","K","C15","S","M"], "range": ["triangle-right", "M0,-1L0.235,-0.324L0.951,-0.309L0.38,0.124L0.588,0.809L0,0.4L-0.588,0.809L-0.38,0.124L-0.951,-0.309L-0.235,-0.324Z", "M-0.8,-0.8L0.8,0.8M-0.8,0.8L0.8,-0.8", "diamond", "triangle-up", "M-3,0L3,0"]},
       "legend": {"labelExpr": "datum.value == 'U' ? 'Untreated CS' : datum.value == 'K' ? '1.5% KOH-60°C treated CS' : datum.value == 'S' ? 'SE treated CS' : datum.value == 'C05' ? 'CPTPS₀.₅% treated CS' : datum.value == 'C15' ? 'CPTPS₁.₅% treated CS' : 'Cone model'"}},
     "fill": {"field": "s", "type": "nominal", "scale": {"domain": ["U","C05","K","C15","S","M"], "range": ["white", "white", "transparent", "black", "black", "transparent"]},
       "legend": {"labelExpr": "datum.value == 'U' ? 'Untreated CS' : datum.value == 'K' ? '1.5% KOH-60°C treated CS' : datum.value == 'S' ? 'SE treated CS' : datum.value == 'C05' ? 'CPTPS₀.₅% treated CS' : datum.value == 'C15' ? 'CPTPS₁.₅% treated CS' : 'Cone model'"}}}}
 ]
}
],
"spacing": 4,
"center": true,
"resolve": {"scale": {"shape": "independent", "fill": "independent", "stroke": "independent"}, "legend": {"shape": "independent", "fill": "independent", "stroke": "independent"}}
}
